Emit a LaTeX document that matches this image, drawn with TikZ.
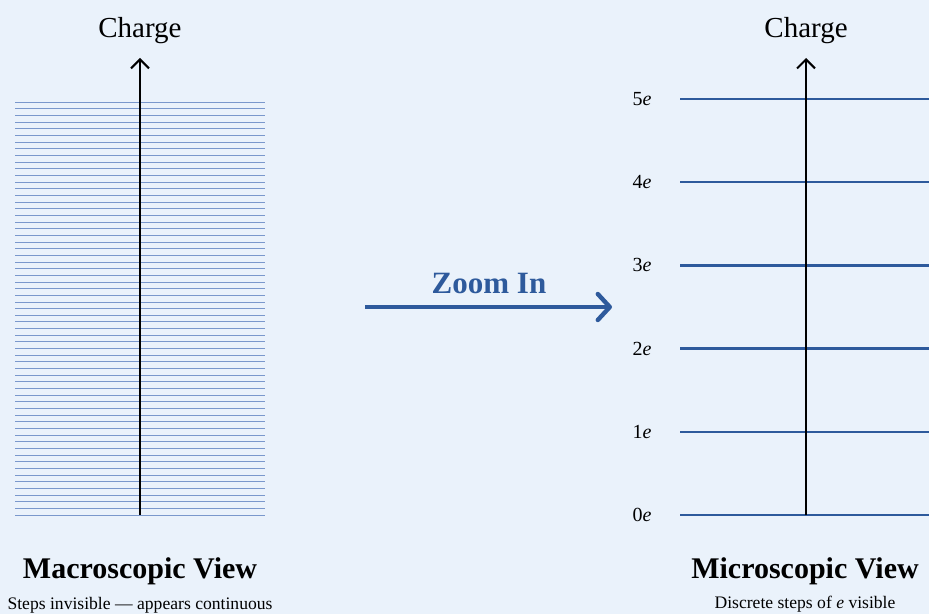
\documentclass[tikz,border=0pt]{standalone}
\usepackage{fontspec}
\setmainfont{Liberation Serif}
\usetikzlibrary{arrows.meta}
\definecolor{bg}{RGB}{234,242,251}
\definecolor{deepblue}{RGB}{46,90,156}
\definecolor{lightline}{RGB}{122,152,204}
\begin{document}
\begin{tikzpicture}[x=0.5pt,y=-0.5pt,
  axisline/.style={line width=1pt,black,-{Straight Barb[length=4.5pt,width=9pt,line width=1pt]}},
  fineline/.style={line width=0.5pt,lightline},
  levelline/.style={line width=1.2pt,deepblue},
  zoomarrow/.style={line width=2pt,deepblue,-{Straight Barb[length=6pt,width=13pt,line width=2.2pt,round]}},
  axistitle/.style={font=\fontsize{14.5}{16}\selectfont,anchor=base},
  viewtitle/.style={font=\fontsize{15}{17}\selectfont\bfseries,anchor=base},
  caption/.style={font=\fontsize{8.8}{11}\selectfont,anchor=base},
  levellabel/.style={font=\fontsize{10}{12}\selectfont,anchor=east,inner sep=0pt},
  zoomlabel/.style={font=\fontsize{15.5}{17}\selectfont\bfseries,text=deepblue,anchor=base}]
\useasboundingbox (0,0) rectangle (929,614);
\fill[bg] (0,0) rectangle (929,614);
% left: macroscopic
\foreach \k in {0,...,62}{
  \draw[fineline] (15,{515-\k*6.656}) -- (265,{515-\k*6.656});
}
\coordinate (Lbot) at (140,515);
\coordinate (Ltop) at (140,58);
\draw[axisline] (Lbot) -- (Ltop);
\node[axistitle] (Lcharge) at (140,38) {Charge};
\node[viewtitle] (Ltitle) at (140,578) {Macroscopic View};
\node[caption] (Lcap) at (140,609) {Steps invisible — appears continuous};
% right: microscopic
\foreach \i in {0,...,5}{
  \draw[levelline] (680,{515-83.2*\i}) -- (935,{515-83.2*\i});
  \node[levellabel] (lab\i) at (652,{515-83.2*\i}) {\i\textit{e}};
}
\coordinate (Rbot) at (806,515);
\coordinate (Rtop) at (806,58);
\draw[axisline] (Rbot) -- (Rtop);
\node[axistitle] (Rcharge) at (806,38) {Charge};
\node[viewtitle] (Rtitle) at (805,578) {Microscopic View};
\node[caption] (Rcap) at (805,608) {Discrete steps of \textit{e} visible};
% zoom arrow
\coordinate (Zs) at (365,307);
\coordinate (Ze) at (612,307);
\draw[zoomarrow] (Zs) -- (Ze);
\node[zoomlabel] (Zlab) at (489,293) {Zoom In};
\end{tikzpicture}
\end{document}
